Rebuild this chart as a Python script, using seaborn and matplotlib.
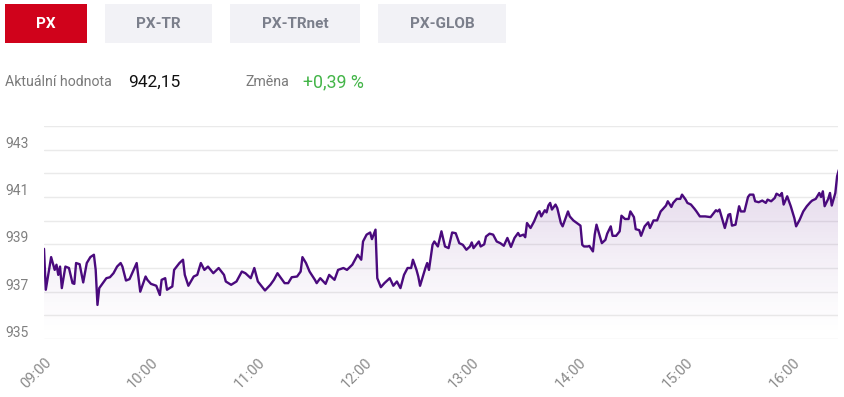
import matplotlib
matplotlib.use('Agg')
import matplotlib.pyplot as plt
import matplotlib.patches as mpatches
from matplotlib.transforms import offset_copy
import numpy as np
import pandas as pd
import seaborn as sns

# intraday PX index, minutes after 09:00 and value
minutes = [0, 1, 4, 6, 7, 8, 9, 10, 12, 14, 16, 17, 18, 20, 22, 24, 26, 28, 29, 30,
           31, 33, 35, 37, 39, 41, 43, 44, 46, 48, 52, 54, 57, 58, 60, 63, 65, 66, 68, 69,
           72, 73, 76, 78, 79, 81, 84, 86, 88, 90, 92, 95, 98, 101, 102, 105, 108, 111, 113, 116,
           118, 120, 124, 127, 129, 131, 135, 137, 139, 142, 144, 145, 147, 149, 152, 153, 155, 158, 160, 163,
           165, 168, 170, 173, 174, 176, 178, 179, 181, 183, 184, 186, 187, 189, 191, 194, 196, 198, 200, 202,
           204, 206, 207, 209, 210, 211, 214, 215, 216, 218, 219, 221, 223, 225, 227, 229, 231, 233, 235, 237,
           239, 240, 241, 244, 245, 247, 248, 250, 252, 254, 256, 258, 260, 262, 264, 266, 267, 269, 270, 271,
           273, 275, 277, 278, 279, 281, 282, 283, 284, 285, 287, 288, 290, 291, 294, 295, 297, 299, 301, 302,
           303, 305, 306, 308, 309, 310, 313, 315, 316, 318, 319, 321, 323, 324, 326, 328, 329, 331, 332, 334,
           335, 337, 339, 340, 342, 344, 346, 347, 349, 350, 352, 353, 355, 357, 358, 360, 361, 363, 365, 366,
           368, 371, 374, 377, 378, 379, 380, 382, 384, 385, 386, 388, 390, 391, 393, 395, 396, 398, 399, 401,
           403, 405, 406, 408, 410, 411, 413, 414, 415, 417, 419, 421, 422, 424, 426, 428, 430, 431, 433, 435,
           436, 437, 438, 440, 441, 442, 444, 445, 446]
values = [938.81, 937.08, 938.46, 937.92, 938.14, 937.71, 938.06, 937.15, 938.06, 938.00,
          937.36, 937.33, 938.21, 938.16, 937.39, 938.21, 938.46, 938.56, 937.92, 936.44,
          937.15, 937.36, 937.57, 937.61, 937.78, 938.06, 938.21, 938.06, 937.47, 937.53,
          938.21, 937.00, 937.64, 937.50, 937.33, 937.25, 936.86, 937.50, 937.57, 937.08,
          937.22, 937.92, 938.21, 938.35, 937.71, 937.25, 937.64, 937.71, 938.21, 937.92,
          938.06, 937.78, 938.00, 937.71, 937.43, 937.29, 937.43, 937.85, 937.78, 937.57,
          938.00, 937.43, 937.05, 937.29, 937.50, 937.78, 937.36, 937.36, 937.61, 937.64,
          937.85, 938.46, 938.21, 937.85, 937.50, 937.36, 937.57, 937.33, 937.71, 937.50,
          937.92, 938.00, 937.92, 938.14, 938.28, 938.56, 938.35, 939.12, 939.41, 939.50,
          939.22, 939.62, 937.57, 937.19, 937.36, 937.57, 937.25, 937.43, 937.15, 937.71,
          938.00, 938.00, 938.35, 937.92, 937.64, 937.25, 938.00, 938.21, 937.92, 938.98,
          939.12, 938.91, 939.55, 938.91, 938.84, 939.50, 939.47, 939.05, 938.98, 938.77,
          938.91, 939.08, 938.84, 939.12, 938.91, 939.00, 939.33, 939.45, 939.41, 939.12,
          939.05, 938.94, 939.27, 938.89, 939.27, 939.48, 939.35, 939.41, 939.30, 939.90,
          939.69, 939.97, 940.33, 940.40, 940.18, 940.44, 940.35, 940.64, 940.75, 940.47,
          940.68, 940.53, 939.90, 939.76, 940.39, 940.18, 940.01, 939.90, 939.79, 938.98,
          938.91, 938.91, 938.93, 938.70, 939.41, 939.83, 939.05, 939.19, 939.45, 939.76,
          939.36, 939.36, 939.55, 940.21, 940.07, 940.07, 940.39, 940.15, 939.64, 939.60,
          939.36, 939.76, 939.93, 939.69, 940.01, 940.01, 940.39, 940.47, 940.64, 940.82,
          940.58, 940.75, 940.92, 940.92, 941.10, 940.89, 940.75, 940.68, 940.50, 940.40,
          940.18, 940.18, 940.15, 940.44, 940.39, 940.47, 940.21, 939.69, 940.25, 940.28,
          939.79, 939.83, 940.61, 940.39, 940.39, 941.00, 941.10, 941.10, 940.82, 940.78,
          940.85, 940.75, 940.89, 940.82, 940.96, 941.14, 941.05, 941.17, 940.68, 941.03,
          940.61, 940.11, 939.76, 940.04, 940.39, 940.61, 940.78, 940.85, 940.92, 941.17,
          941.00, 941.24, 940.61, 940.92, 941.17, 940.64, 941.17, 941.88, 942.15]

hour_ticks = [0, 60, 120, 180, 240, 300, 360, 420]
hour_labels = ['09:00', '10:00', '11:00', '12:00', '13:00', '14:00', '15:00', '16:00']
y_labels = [935, 937, 939, 941, 943]
tabs = ['PX', 'PX-TR', 'PX-TRnet', 'PX-GLOB']
current_value = '942,15'
change = '+0,39 %'

df = pd.DataFrame({'minute': minutes, 'value': values})

sns.set_style('white')
plt.rcParams['font.family'] = ['Roboto', 'DejaVu Sans']

W, H = 844, 397
fig = plt.figure(figsize=(W / 100, H / 100), dpi=100)

# tab buttons (pixel boxes: x0, x1)
tab_boxes = [(5, 87), (105, 212), (230, 360), (378, 506)]
for i, (name, (x0, x1)) in enumerate(zip(tabs, tab_boxes)):
    active = i == 0
    fig.patches.append(mpatches.Rectangle((x0 / W, 1 - 43 / H), (x1 - x0) / W, 39 / H,
                                          transform=fig.transFigure,
                                          facecolor='#d0021b' if active else '#f2f2f6',
                                          edgecolor='none'))
    fig.text((x0 + x1) / 2 / W, 1 - 23.5 / H, name, ha='center', va='center',
             fontsize=11, fontweight='bold', color='white' if active else '#7b7f8b')

# current value row
row_y = 1 - 82 / H
fig.text(5 / W, row_y, 'Aktuální hodnota', ha='left', va='center', fontsize=10.2, color='#7a7a7a')
fig.text(128 / W, row_y, current_value, ha='left', va='center', fontsize=12.5, color='#111111')
fig.text(245 / W, row_y, 'Změna', ha='left', va='center', fontsize=10.2, color='#7a7a7a')
fig.text(303 / W, row_y, change, ha='left', va='center', fontsize=12.8, color='#44b549')

# chart
ax = fig.add_axes([44 / W, 1 - 339 / H, 794 / W, 213 / H])
line_color = '#4a0a7d'
sns.lineplot(data=df, x='minute', y='value', ax=ax, color=line_color, linewidth=1.7)

# gradient area below the line
poly = ax.fill_between(df['minute'], df['value'], 935, color='none', lw=0)
grad = np.zeros((256, 1, 4))
grad[:, 0, :3] = matplotlib.colors.to_rgb('#6a2c91')
grad[:, 0, 3] = 0.2 * np.linspace(1, 0, 256) ** 1.3
im = ax.imshow(grad, extent=[0, max(minutes), 935, max(values)], aspect='auto',
               origin='upper', zorder=1)
im.set_clip_path(poly.get_paths()[0], transform=ax.transData)

ax.set_xlim(0, max(minutes) - 0.5)
ax.set_ylim(935, 944)
ax.set_yticks(range(935, 945))
ax.yaxis.grid(True, color='#eaeaea', linewidth=1)
ax.set_axisbelow(True)
ax.tick_params(axis='y', left=False, labelleft=False)
for v in y_labels:
    tr = offset_copy(ax.get_yaxis_transform(), fig=fig, x=0, y=6, units='dots')
    ax.text(-39 / 794, v, str(v), transform=tr, ha='left', va='center',
            fontsize=10, color='#808080')

ax.set_xticks(hour_ticks)
ax.set_xticklabels(hour_labels, rotation=45, ha='right', rotation_mode='anchor',
                   fontsize=10.5, color='#8a8a8a')
ax.tick_params(axis='x', bottom=False, pad=8)
ax.set_xlabel('')
ax.set_ylabel('')
sns.despine(ax=ax, left=True, bottom=True)

fig.savefig('out.png', dpi=100)
